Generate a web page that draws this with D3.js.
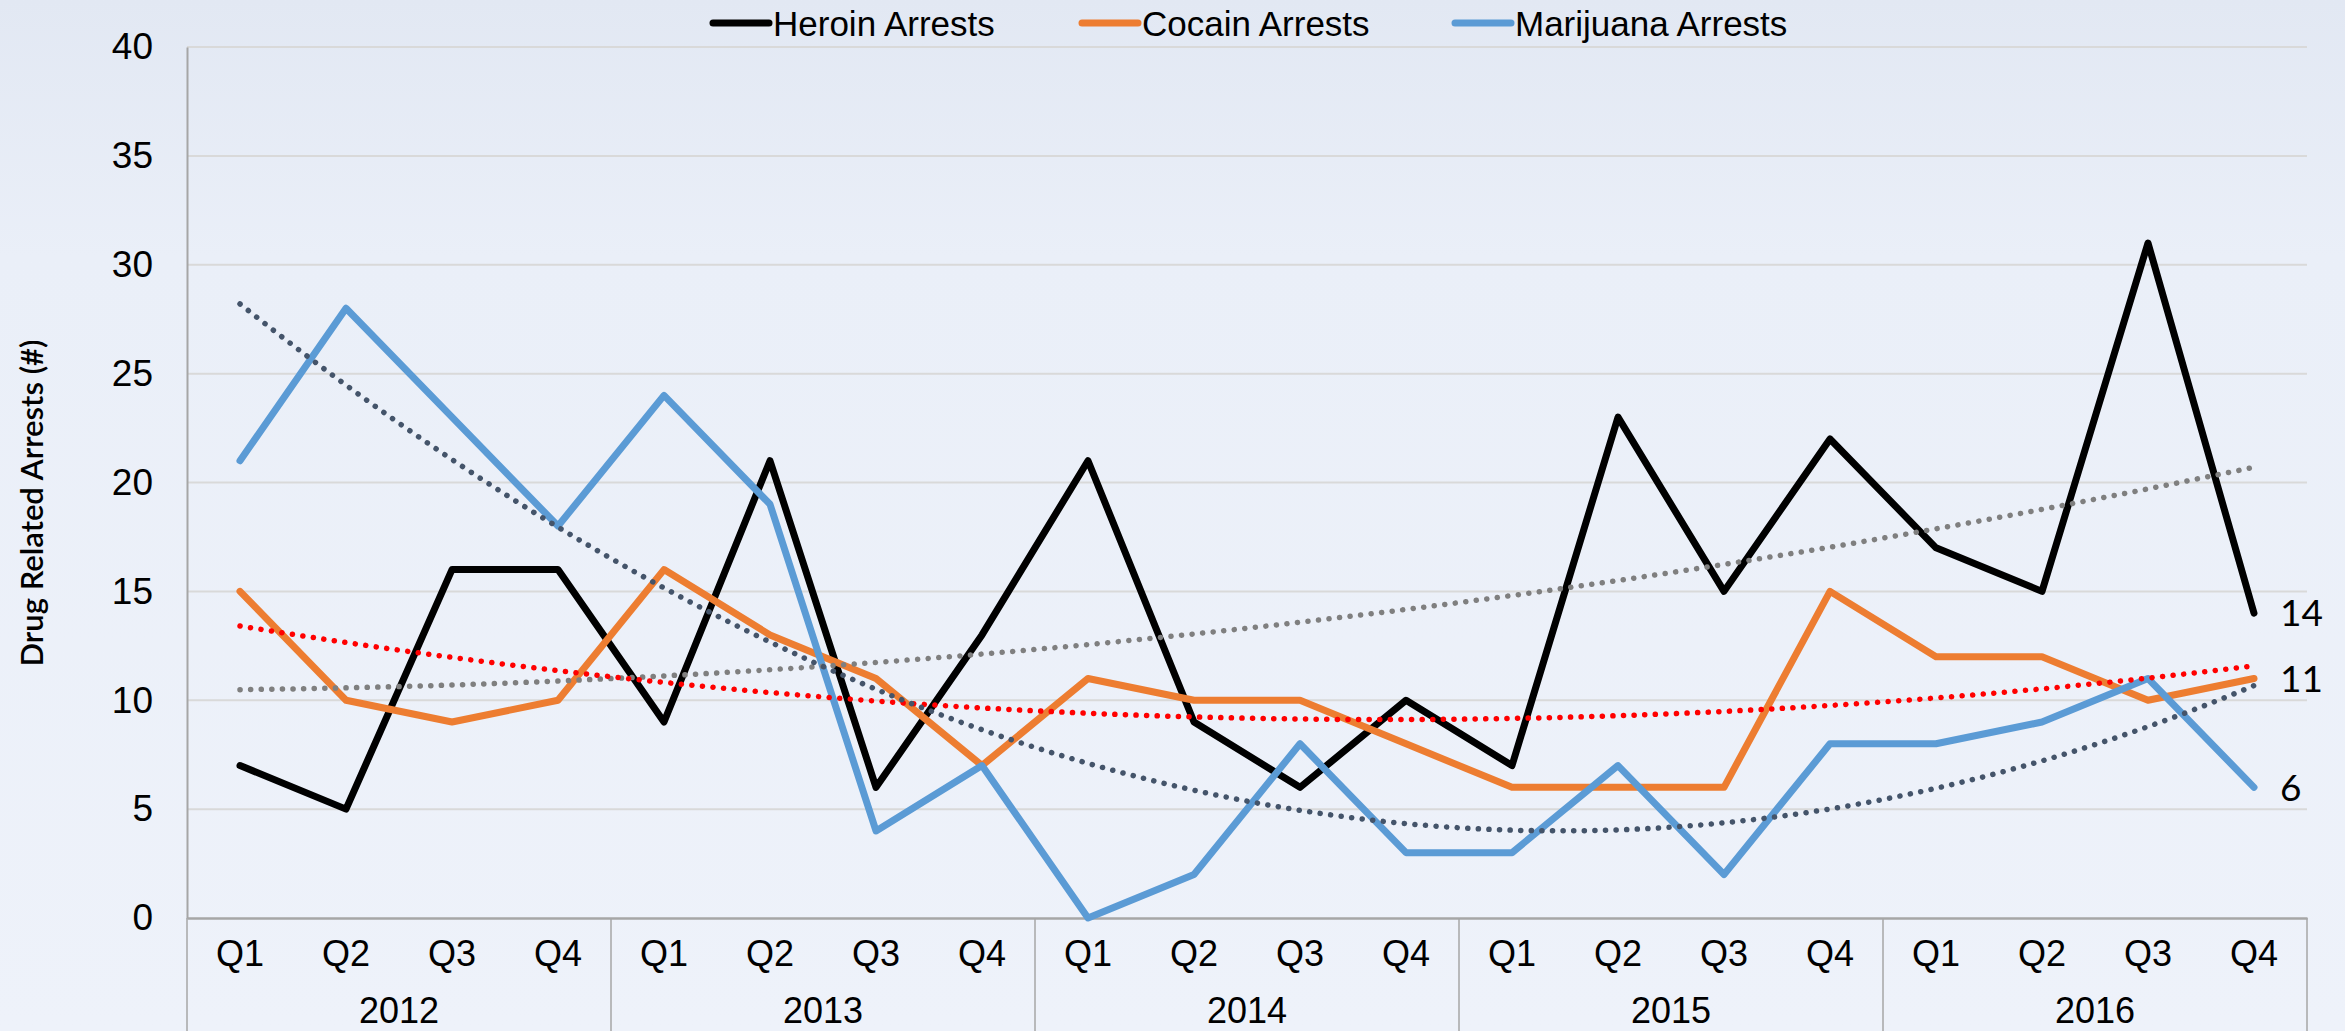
<!DOCTYPE html>
<html>
<head>
<meta charset="utf-8">
<script src="https://cdn.jsdelivr.net/npm/d3@7"></script>
<style>
  html, body { margin: 0; padding: 0; background: #edf1f9; }
  svg { display: block; }
</style>
</head>
<body>
<div id="chart"></div>
<script>
// data
const years = ["2012", "2013", "2014", "2015", "2016"];
const quarters = ["Q1", "Q2", "Q3", "Q4"];
const heroin = [7, 5, 16, 16, 9, 21, 6, 13, 21, 9, 6, 10, 7, 23, 15, 22, 17, 15, 31, 14];
const cocaine = [15, 10, 9, 10, 16, 13, 11, 7, 11, 10, 10, 8, 6, 6, 6, 15, 12, 12, 10, 11];
const marijuana = [21, 28, 23, 18, 24, 19, 4, 7, 0, 2, 8, 3, 3, 7, 2, 8, 8, 9, 11, 6];
const yTicks = [0, 5, 10, 15, 20, 25, 30, 35, 40];

const W = 2345, H = 1031;
const margin = { top: 47, right: 38, bottom: 113, left: 187 };

const series = [
    { name: "Heroin Arrests", values: heroin, color: "#000000", trend: "#7f7f7f" },
    { name: "Cocain Arrests", values: cocaine, color: "#ed7d31", trend: "#ff0000" },
    { name: "Marijuana Arrests", values: marijuana, color: "#5b9bd5", trend: "#44546a" }
];

// one key per quarter
const keys = [];
years.forEach(y => quarters.forEach(q => keys.push(y + "-" + q)));

const svg = d3.select("#chart").append("svg")
    .attr("width", W)
    .attr("height", H);

// background
const grad = svg.append("defs").append("linearGradient")
    .attr("id", "bg").attr("x1", 0).attr("y1", 0).attr("x2", 0).attr("y2", 1);
grad.append("stop").attr("offset", "0%").attr("stop-color", "#e2e8f3");
grad.append("stop").attr("offset", "25%").attr("stop-color", "#eaeff8");
grad.append("stop").attr("offset", "100%").attr("stop-color", "#eef2fa");
svg.append("rect").attr("width", W).attr("height", H).attr("fill", "url(#bg)");

const x = d3.scaleBand()
    .domain(keys)
    .range([margin.left, W - margin.right]);

// continuous index scale for the trendlines
const xi = d3.scaleLinear()
    .domain([1, keys.length])
    .range([x(keys[0]) + x.bandwidth() / 2, x(keys[keys.length - 1]) + x.bandwidth() / 2]);

const y = d3.scaleLinear()
    .domain([0, 40])
    .range([H - margin.bottom, margin.top]);

// gridlines
svg.append("g")
    .selectAll("line")
    .data(yTicks.filter(t => t > 0))
    .enter()
    .append("line")
    .attr("x1", margin.left)
    .attr("x2", W - margin.right)
    .attr("y1", d => y(d))
    .attr("y2", d => y(d))
    .attr("stroke", "#d9d9d9")
    .attr("stroke-width", 2);

// y axis
const yAxis = svg.append("g")
    .attr("transform", `translate(${margin.left},0)`)
    .call(d3.axisLeft(y).tickValues(yTicks).tickSize(0).tickPadding(34));
yAxis.select(".domain").attr("stroke", "#a6a6a6").attr("stroke-width", 2);
yAxis.selectAll("text")
    .style("font-family", "'Liberation Sans', Arial, sans-serif")
    .style("font-size", "37px")
    .attr("fill", "#000");

// x axis, quarter labels
const xAxis = svg.append("g")
    .attr("transform", `translate(0,${y(0)})`)
    .call(d3.axisBottom(x).tickSize(0).tickPadding(22).tickFormat(d => d.split("-")[1]));
xAxis.select(".domain").attr("stroke", "#a6a6a6").attr("stroke-width", 2.5);
xAxis.selectAll("text")
    .style("font-family", "'Liberation Sans', Arial, sans-serif")
    .style("font-size", "36px")
    .attr("fill", "#000");

// year group dividers and labels
const yearBand = d3.scaleBand()
    .domain(years)
    .range([margin.left, W - margin.right]);

svg.append("g")
    .selectAll("line")
    .data(years.concat(["end"]))
    .enter()
    .append("line")
    .attr("x1", d => d === "end" ? W - margin.right : yearBand(d))
    .attr("x2", d => d === "end" ? W - margin.right : yearBand(d))
    .attr("y1", y(0))
    .attr("y2", H)
    .attr("stroke", "#a6a6a6")
    .attr("stroke-width", 1.5);

svg.append("g")
    .selectAll("text")
    .data(years)
    .enter()
    .append("text")
    .attr("x", d => yearBand(d) + yearBand.bandwidth() / 2)
    .attr("y", y(0) + 92)
    .attr("dy", "0.35em")
    .attr("text-anchor", "middle")
    .style("font-family", "'Liberation Sans', Arial, sans-serif")
    .style("font-size", "36px")
    .text(d => d);

// y axis title
svg.append("text")
    .attr("transform", "rotate(-90)")
    .attr("x", -503)
    .attr("y", 43)
    .attr("text-anchor", "middle")
    .style("font-family", "Lato, 'Open Sans', sans-serif")
    .style("font-size", "31px")
    .style("font-weight", "600")
    .text("Drug Related Arrests (#)");

// series lines
const line = d3.line()
    .x((d, i) => x(keys[i]) + x.bandwidth() / 2)
    .y(d => y(d));

svg.append("g")
    .selectAll("path")
    .data(series)
    .enter()
    .append("path")
    .attr("d", d => line(d.values))
    .attr("fill", "none")
    .attr("stroke", d => d.color)
    .attr("stroke-width", 7)
    .attr("stroke-linejoin", "round")
    .attr("stroke-linecap", "round");

// second order polynomial trendline (least squares), x = 1..n
function polyFit2(vals) {
    let s = [0, 0, 0, 0, 0], t = [0, 0, 0];
    vals.forEach((v, i) => {
        const xv = i + 1;
        for (let k = 0; k <= 4; k++) s[k] += Math.pow(xv, k);
        for (let k = 0; k <= 2; k++) t[k] += v * Math.pow(xv, k);
    });
    // normal equations, solved by Cramer's rule
    const M = [[s[0], s[1], s[2]], [s[1], s[2], s[3]], [s[2], s[3], s[4]]];
    const det = m => m[0][0] * (m[1][1] * m[2][2] - m[1][2] * m[2][1])
        - m[0][1] * (m[1][0] * m[2][2] - m[1][2] * m[2][0])
        + m[0][2] * (m[1][0] * m[2][1] - m[1][1] * m[2][0]);
    const D = det(M);
    const coef = [0, 1, 2].map(c => det(M.map((row, r) => row.map((v, j) => j === c ? t[r] : v))) / D);
    return xv => coef[0] + coef[1] * xv + coef[2] * xv * xv;
}

const trendLine = d3.line()
    .x(d => xi(d[0]))
    .y(d => y(d[1]));

svg.append("g")
    .selectAll("path")
    .data(series)
    .enter()
    .append("path")
    .attr("d", d => {
        const f = polyFit2(d.values);
        const pts = d3.range(1, keys.length + 0.001, 0.1).map(xv => [xv, f(xv)]);
        return trendLine(pts);
    })
    .attr("fill", "none")
    .attr("stroke", d => d.trend)
    .attr("stroke-width", 5.5)
    .attr("stroke-linecap", "round")
    .attr("stroke-dasharray", "0.1 10.5");

// end value labels
svg.append("g")
    .selectAll("text")
    .data(series)
    .enter()
    .append("text")
    .attr("x", x(keys[keys.length - 1]) + x.bandwidth() / 2 + 26)
    .attr("y", d => y(d.values[d.values.length - 1]))
    .attr("dy", "0.36em")
    .style("font-family", "Lato, 'Open Sans', sans-serif")
    .style("font-size", "37px")
    .text(d => d.values[d.values.length - 1]);

// legend
const legendX = [713, 1082, 1455];
const legend = svg.append("g")
    .selectAll("g")
    .data(series)
    .enter()
    .append("g")
    .attr("transform", (d, i) => `translate(${legendX[i]},23)`);

legend.append("line")
    .attr("x1", 0)
    .attr("x2", 56)
    .attr("stroke", d => d.color)
    .attr("stroke-width", 7)
    .attr("stroke-linecap", "round");

legend.append("text")
    .attr("x", 60)
    .attr("dy", "0.36em")
    .style("font-family", "'Liberation Sans', Arial, sans-serif")
    .style("font-size", "35px")
    .text(d => d.name);
</script>
</body>
</html>
